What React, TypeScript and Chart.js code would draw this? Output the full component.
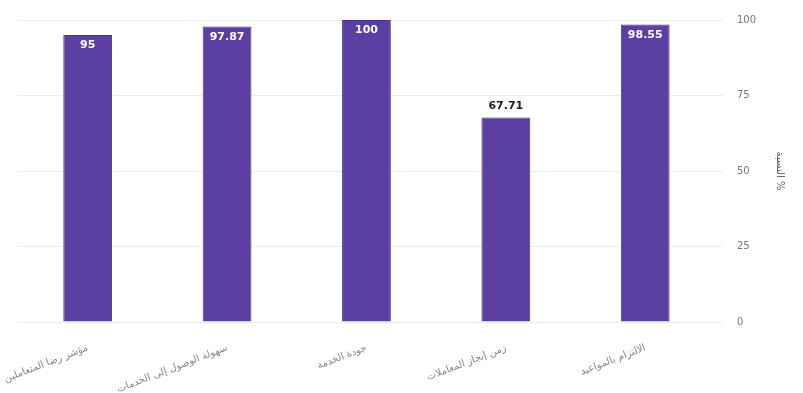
import React, { useEffect, useRef } from "react";
import { Chart, registerables } from "chart.js";

Chart.register(...registerables);

const categories = [
  "مؤشر رضا المتعاملين",
  "سهولة الوصول إلى الخدمات",
  "جودة الخدمة",
  "زمن إنجاز المعاملات",
  "الالتزام بالمواعيد",
];
const values = [95, 97.87, 100, 67.71, 98.55];
const valueLabels = ["95", "97.87", "100", "67.71", "98.55"];
const yTicks = [0, 25, 50, 75, 100];
const axisTitle = "النسبة %";

const labelPlugin = {
  id: "valueLabels",
  afterDatasetsDraw(chart: any) {
    const ctx = chart.ctx;
    const meta = chart.getDatasetMeta(0);
    ctx.save();
    ctx.font = "bold 11px 'DejaVu Sans', sans-serif";
    ctx.textAlign = "center";
    meta.data.forEach((bar: any, i: number) => {
      const v = values[i];
      const inside = v > 80;
      if (inside) {
        ctx.fillStyle = "#ffffff";
        ctx.textBaseline = "top";
        ctx.fillText(valueLabels[i], bar.x, bar.y + 5);
      } else {
        ctx.fillStyle = "#222222";
        ctx.textBaseline = "bottom";
        ctx.fillText(valueLabels[i], bar.x, bar.y - 6);
      }
    });
    ctx.restore();
  },
};

export default function App() {
  const ref = useRef<HTMLCanvasElement>(null);
  useEffect(() => {
    if (!ref.current) return;
    const chart = new Chart(ref.current, {
      type: "bar",
      data: {
        labels: categories,
        datasets: [
          {
            data: values,
            backgroundColor: "#5b3fa3",
            borderColor: "#4a3090",
            borderWidth: 1,
            barPercentage: 0.7,
            categoryPercentage: 0.5,
          },
        ],
      },
      options: {
        responsive: false,
        animation: false,
        layout: { padding: { left: 18, right: 13, top: 20, bottom: 0 } },
        plugins: { legend: { display: false }, tooltip: { enabled: false } },
        scales: {
          x: {
            grid: { display: false },
            border: { display: false },
            afterFit: (axis: any) => {
              axis.height = 71;
              axis.paddingLeft = 0;
              axis.paddingRight = 0;
            },
            ticks: {
              maxRotation: 21,
              minRotation: 21,
              padding: 12,
              color: "#888",
              font: { family: "'DejaVu Sans', sans-serif", size: 10 },
            },
          },
          y: {
            position: "right",
            min: 0,
            max: 100,
            afterBuildTicks: (axis: any) => {
              axis.ticks = yTicks.map((v) => ({ value: v }));
            },
            grid: { color: "#ececec" },
            border: { display: false },
            ticks: {
              color: "#777",
              padding: 14,
              font: { family: "'DejaVu Sans', sans-serif", size: 10 },
            },
            title: {
              display: true,
              text: axisTitle,
              color: "#555",
              font: { family: "'DejaVu Sans', sans-serif", size: 10 },
            },
          },
        },
      },
      plugins: [labelPlugin],
    });
    return () => chart.destroy();
  }, []);
  return (
    <div style={{ position: "fixed", left: 0, top: 0, width: 803, height: 393, background: "#fff" }}>
      <canvas ref={ref} width={803} height={393} />
    </div>
  );
}
